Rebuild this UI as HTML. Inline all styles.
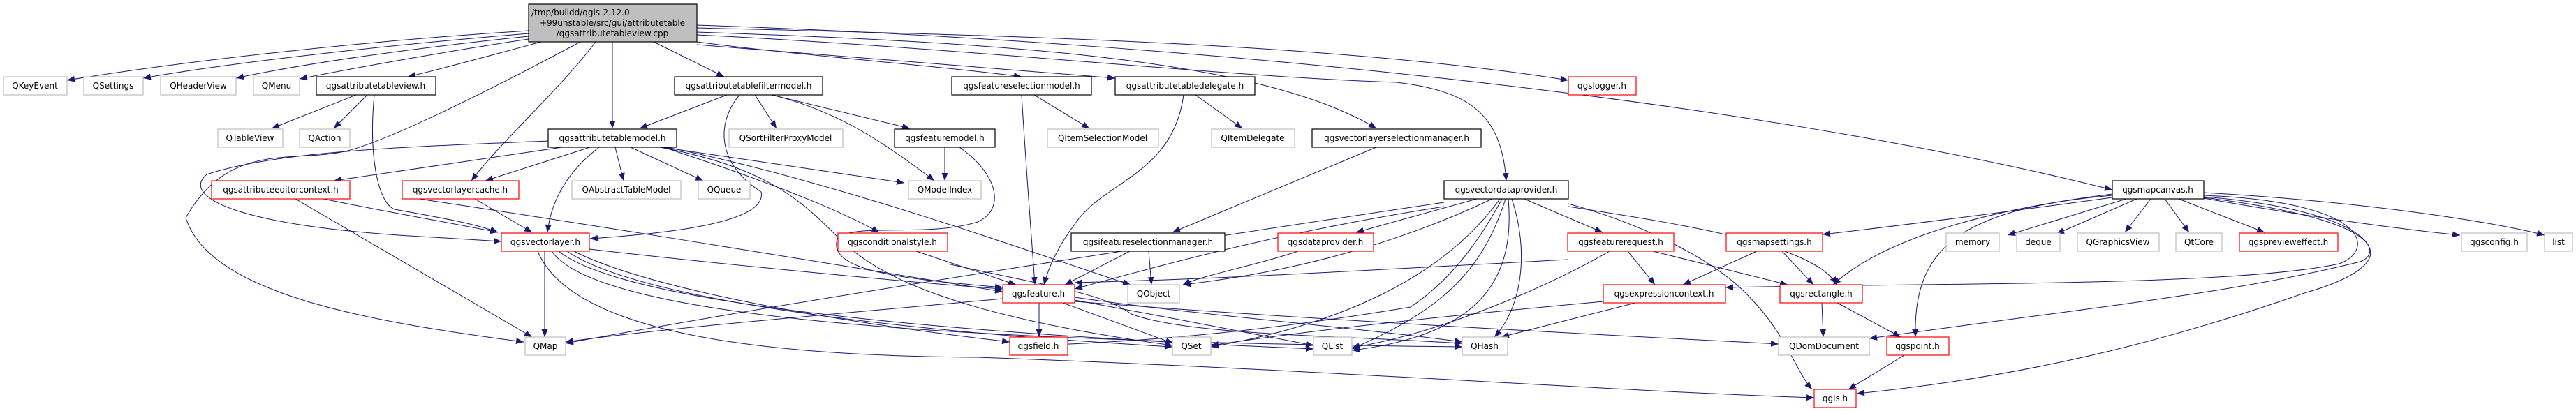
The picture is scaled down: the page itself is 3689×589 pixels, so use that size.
<!DOCTYPE html>
<html><head><meta charset="utf-8"><style>
html,body{margin:0;padding:0;background:#fff;}
svg{display:block;}
text{font-family:"DejaVu Sans","Liberation Sans",sans-serif;font-size:12px;fill:#000;text-anchor:middle;}
.g{fill:#fff;stroke:#bfbfbf;stroke-width:1.2;}
.r{fill:#fff;stroke:#ff0000;stroke-width:1.2;}
.k{fill:#fff;stroke:#000;stroke-width:1.2;}
path.e{fill:none;stroke:#191970;stroke-width:1;marker-end:url(#a);}
</style></head><body>
<svg width="3689" height="589" viewBox="0 0 3689 589" xmlns="http://www.w3.org/2000/svg">
<defs><marker id="a" markerUnits="userSpaceOnUse" markerWidth="12" markerHeight="9" refX="11" refY="4.5" orient="auto"><path d="M0,0 L11,4.5 L0,9 z" fill="#191970"/></marker></defs>

<!-- edges from top box -->
<path class="e" d="M757,44 C500,60 250,90 96,115"/>
<path class="e" d="M757,48 C550,65 330,90 205,112"/>
<path class="e" d="M757,52 C600,68 440,90 338,112"/>
<path class="e" d="M757,56 C650,72 520,95 429,113"/>
<path class="e" d="M775,60 C700,80 640,97 584,110"/>
<path class="e" d="M877,60 L877,184"/>
<path class="e" d="M936,60 L1037,110"/>
<path class="e" d="M853,60 C800,130 720,200 675,259"/>
<path class="e" d="M831,60 C700,130 560,200 498,216 C420,235 330,200 266,312 C300,420 520,460 750,490"/>
<path class="e" d="M998,60 C1150,80 1350,95 1463,110"/>
<path class="e" d="M998,64 C1250,85 1450,100 1597,112"/>
<path class="e" d="M998,40 C1400,50 1900,60 2246,115"/>
<path class="e" d="M998,46 C1400,60 1800,80 1971,184"/>
<path class="e" d="M998,50 C1400,70 1750,110 2000,118 C2100,130 2150,160 2157,259"/>
<path class="e" d="M998,36 C1700,60 2500,140 3025,272"/>

<!-- qgsattributetableview.h -->
<path class="e" d="M510,136 L389,184"/>
<path class="e" d="M526,136 L478,184"/>
<path class="e" d="M536,136 C528,220 540,290 565,300 C620,310 680,320 713,333"/>

<!-- qgsattributetablemodel.h -->
<path class="e" d="M785,202 C600,210 400,215 296,250 C260,280 330,325 620,340 L718,346"/>
<path class="e" d="M805,211 L478,259"/>
<path class="e" d="M845,211 L695,259"/>
<path class="e" d="M858,211 C820,240 790,280 784,333"/>
<path class="e" d="M881,211 L893,259"/>
<path class="e" d="M903,211 L1007,259"/>
<path class="e" d="M948,211 L1295,262"/>
<path class="e" d="M950,211 C1100,260 1200,300 1259,333"/>
<path class="e" d="M955,211 C1200,260 1500,370 1619,408"/>
<path class="e" d="M945,211 C1100,240 1150,290 1200,340 C1250,390 1350,450 1679,495"/>

<!-- filtermodel -->
<path class="e" d="M1041,136 L916,184"/>
<path class="e" d="M1081,136 L1112,184"/>
<path class="e" d="M1105,136 L1303,184"/>
<path class="e" d="M1106,136 C1200,160 1260,200 1338,259"/>
<path class="e" d="M1059,136 C1030,170 1020,230 1090,275 C1100,320 950,335 845,342"/>

<!-- qgsfeaturemodel.h -->
<path class="e" d="M1353,211 L1353,259"/>
<path class="e" d="M1374,211 C1430,250 1440,300 1400,318 C1330,340 1230,320 1200,340 C1180,390 1300,400 1436,412"/>

<!-- selection model / delegate -->
<path class="e" d="M1463,136 C1470,250 1478,350 1482,408"/>
<path class="e" d="M1481,136 L1560,184"/>
<path class="e" d="M1695,136 C1680,250 1580,260 1540,320 C1510,360 1500,390 1495,408"/>
<path class="e" d="M1712,136 L1779,184"/>
<path class="e" d="M1971,211 L1679,333"/>

<!-- ifeatureselectionmanager -->
<path class="e" d="M1618,360 L1525,408"/>
<path class="e" d="M1645,360 L1649,408"/>

<!-- conditionalstyle -->
<path class="e" d="M1312,360 L1455,408"/>
<path class="e" d="M1357,378 C1500,410 1580,420 1620,450 C1700,480 1900,480 2094,492"/>

<!-- vectorlayercache -->
<path class="e" d="M680,285 L762,333"/>
<path class="e" d="M600,285 C900,330 1200,380 1436,418"/>

<!-- attributeeditorcontext -->
<path class="e" d="M423,285 L762,483"/>
<path class="e" d="M463,285 C560,305 650,320 713,333"/>

<!-- qgsvectorlayer.h -->
<path class="e" d="M780,360 L780,483"/>
<path class="e" d="M844,357 C1000,375 1300,405 1436,414"/>
<path class="e" d="M822,360 C900,400 1100,450 1446,490"/>
<path class="e" d="M812,360 C900,420 1200,470 1679,497"/>
<path class="e" d="M800,360 C900,440 1400,480 1881,500"/>
<path class="e" d="M790,360 C860,460 1400,490 2094,497"/>
<path class="e" d="M770,360 C820,480 1100,510 1400,512 C1900,530 2300,560 2598,570"/>

<!-- qgsfeature.h -->
<path class="e" d="M1488,434 L1488,483"/>
<path class="e" d="M1522,434 L1680,492"/>
<path class="e" d="M1539,430 C1650,450 1800,480 1881,495"/>
<path class="e" d="M1539,426 C1700,450 1950,470 2094,490"/>
<path class="e" d="M1436,428 C1200,450 950,470 810,490"/>
<path class="e" d="M1539,432 C1900,460 2300,480 2547,493"/>

<!-- vectordataprovider -->
<path class="e" d="M2115,285 L1942,333"/>
<path class="e" d="M2183,285 L2295,333"/>
<path class="e" d="M2068,296 C1850,330 1700,370 1539,414"/>
<path class="e" d="M2137,285 C2000,350 1850,390 1694,408"/>
<path class="e" d="M2151,285 C2100,380 2050,420 2020,440 C1900,460 1700,490 1446,496"/>
<path class="e" d="M2156,285 C2120,400 2050,450 1936,500"/>
<path class="e" d="M2160,285 C2170,400 2120,480 1936,502"/>
<path class="e" d="M2165,285 C2190,360 2180,440 2140,483"/>
<path class="e" d="M2148,285 C2080,380 1950,460 1734,497"/>
<path class="e" d="M2246,296 C2400,320 2600,350 2630,408"/>
<path class="e" d="M2246,292 C2350,320 2450,370 2500,420 C2560,480 2570,530 2595,558"/>
<path class="e" d="M2068,290 C1800,330 1200,420 810,492"/>

<!-- dataprovider / featurerequest / expressioncontext -->
<path class="e" d="M1859,360 C1800,380 1720,395 1694,408"/>
<path class="e" d="M2331,360 L2370,408"/>
<path class="e" d="M2367,360 L2560,408"/>
<path class="e" d="M2245,372 C2000,385 1750,400 1539,405"/>
<path class="e" d="M2305,360 C2200,420 2050,480 1936,498"/>
<path class="e" d="M2342,434 L2150,483"/>
<path class="e" d="M2296,432 C2100,450 1900,470 1734,495"/>

<!-- mapsettings / rectangle / point -->
<path class="e" d="M2516,360 L2410,408"/>
<path class="e" d="M2552,360 L2597,408"/>
<path class="e" d="M2609,434 L2611,483"/>
<path class="e" d="M2631,434 L2722,483"/>
<path class="e" d="M2727,509 L2647,558"/>

<!-- qgsmapcanvas.h -->
<path class="e" d="M3025,283 C2900,300 2750,320 2610,336"/>
<path class="e" d="M3045,285 L2875,337"/>
<path class="e" d="M3060,285 L2945,335"/>
<path class="e" d="M3080,285 L3043,333"/>
<path class="e" d="M3100,285 L3135,333"/>
<path class="e" d="M3120,285 L3243,333"/>
<path class="e" d="M3156,284 C3300,310 3450,330 3523,337"/>
<path class="e" d="M3156,276 C3400,290 3580,320 3644,337"/>
<path class="e" d="M3025,278 C2850,300 2700,340 2625,408"/>
<path class="e" d="M3025,280 C2800,300 2740,360 2743,483"/>
<path class="e" d="M3156,280 C3400,290 3400,360 3350,378 C3200,410 2800,405 2471,412"/>
<path class="e" d="M3156,282 C3380,300 3420,360 3380,375 C3200,420 3000,440 2677,485"/>
<path class="e" d="M3156,283 C3450,320 3440,380 3300,420 C3100,490 2900,540 2659,564"/>

<!-- nodes -->
<rect x="757" y="6" width="241" height="54" fill="#bfbfbf" stroke="#000" stroke-width="1.2"/>
<text x="877" y="22" style="text-anchor:start" transform="translate(-116,0)">/tmp/buildd/qgis-2.12.0</text>
<text x="877" y="37">+99unstable/src/gui/attributetable</text>
<text x="877" y="52">/qgsattributetableview.cpp</text>

<rect class="g" x="5" y="110" width="91" height="26"/><text x="50" y="127">QKeyEvent</text>
<rect class="g" x="120" y="110" width="85" height="26"/><text x="162" y="127">QSettings</text>
<rect class="g" x="230" y="110" width="108" height="26"/><text x="284" y="127">QHeaderView</text>
<rect class="g" x="363" y="110" width="66" height="26"/><text x="396" y="127">QMenu</text>
<rect class="k" x="453" y="110" width="171" height="26"/><text x="538" y="127">qgsattributetableview.h</text>
<rect class="k" x="966" y="110" width="212" height="26"/><text x="1072" y="127">qgsattributetablefiltermodel.h</text>
<rect class="k" x="1363" y="110" width="200" height="26"/><text x="1463" y="127">qgsfeatureselectionmodel.h</text>
<rect class="k" x="1597" y="110" width="200" height="26"/><text x="1697" y="127">qgsattributetabledelegate.h</text>
<rect class="r" x="2246" y="110" width="97" height="26"/><text x="2294" y="127">qgslogger.h</text>

<rect class="g" x="312" y="185" width="93" height="26"/><text x="358" y="202">QTableView</text>
<rect class="g" x="429" y="185" width="72" height="26"/><text x="465" y="202">QAction</text>
<rect class="k" x="785" y="185" width="184" height="26"/><text x="877" y="202">qgsattributetablemodel.h</text>
<rect class="g" x="1044" y="185" width="163" height="26"/><text x="1125" y="202">QSortFilterProxyModel</text>
<rect class="k" x="1281" y="185" width="144" height="26"/><text x="1353" y="202">qgsfeaturemodel.h</text>
<rect class="g" x="1500" y="185" width="159" height="26"/><text x="1579" y="202">QItemSelectionModel</text>
<rect class="g" x="1735" y="185" width="119" height="26"/><text x="1794" y="202">QItemDelegate</text>
<rect class="k" x="1879" y="185" width="242" height="26"/><text x="2000" y="202">qgsvectorlayerselectionmanager.h</text>

<rect class="r" x="303" y="259" width="198" height="26"/><text x="402" y="276">qgsattributeeditorcontext.h</text>
<rect class="r" x="576" y="259" width="167" height="26"/><text x="659" y="276">qgsvectorlayercache.h</text>
<rect class="g" x="819" y="259" width="156" height="26"/><text x="897" y="276">QAbstractTableModel</text>
<rect class="g" x="1000" y="259" width="74" height="26"/><text x="1037" y="276">QQueue</text>
<rect class="g" x="1301" y="259" width="104" height="26"/><text x="1353" y="276">QModelIndex</text>
<rect class="k" x="2068" y="259" width="178" height="26"/><text x="2157" y="276">qgsvectordataprovider.h</text>
<rect class="k" x="3025" y="259" width="131" height="26"/><text x="3090" y="276">qgsmapcanvas.h</text>

<rect class="r" x="718" y="334" width="126" height="26"/><text x="781" y="351">qgsvectorlayer.h</text>
<rect class="r" x="1200" y="334" width="157" height="26"/><text x="1278" y="351">qgsconditionalstyle.h</text>
<rect class="k" x="1534" y="334" width="220" height="26"/><text x="1644" y="351">qgsifeatureselectionmanager.h</text>
<rect class="r" x="1830" y="334" width="137" height="26"/><text x="1898" y="351">qgsdataprovider.h</text>
<rect class="r" x="2245" y="334" width="152" height="26"/><text x="2321" y="351">qgsfeaturerequest.h</text>
<rect class="r" x="2472" y="334" width="138" height="26"/><text x="2541" y="351">qgsmapsettings.h</text>
<rect class="g" x="2787" y="334" width="76" height="26"/><text x="2825" y="351">memory</text>
<rect class="g" x="2888" y="334" width="62" height="26"/><text x="2919" y="351">deque</text>
<rect class="g" x="2975" y="334" width="117" height="26"/><text x="3033" y="351">QGraphicsView</text>
<rect class="g" x="3116" y="334" width="66" height="26"/><text x="3149" y="351">QtCore</text>
<rect class="r" x="3207" y="334" width="141" height="26"/><text x="3277" y="351">qgspreviewеffect.h</text>
<rect class="g" x="3525" y="334" width="94" height="26"/><text x="3572" y="351">qgsconfig.h</text>
<rect class="g" x="3644" y="334" width="40" height="26"/><text x="3664" y="351">list</text>

<rect class="r" x="1436" y="408" width="103" height="26"/><text x="1487" y="425">qgsfeature.h</text>
<rect class="g" x="1615" y="408" width="74" height="26"/><text x="1652" y="425">QObject</text>
<rect class="r" x="2296" y="408" width="175" height="26"/><text x="2383" y="425">qgsexpressioncontext.h</text>
<rect class="r" x="2549" y="408" width="118" height="26"/><text x="2608" y="425">qgsrectangle.h</text>

<rect class="g" x="752" y="483" width="58" height="26"/><text x="781" y="500">QMap</text>
<rect class="r" x="1446" y="483" width="83" height="26"/><text x="1487" y="500">qgsfield.h</text>
<rect class="g" x="1679" y="483" width="55" height="26"/><text x="1706" y="500">QSet</text>
<rect class="g" x="1881" y="483" width="55" height="26"/><text x="1908" y="500">QList</text>
<rect class="g" x="2094" y="483" width="65" height="26"/><text x="2126" y="500">QHash</text>
<rect class="g" x="2547" y="483" width="130" height="26"/><text x="2612" y="500">QDomDocument</text>
<rect class="r" x="2702" y="483" width="89" height="26"/><text x="2746" y="500">qgspoint.h</text>

<rect class="r" x="2598" y="558" width="60" height="26"/><text x="2628" y="575">qgis.h</text>
</svg>
</body></html>
